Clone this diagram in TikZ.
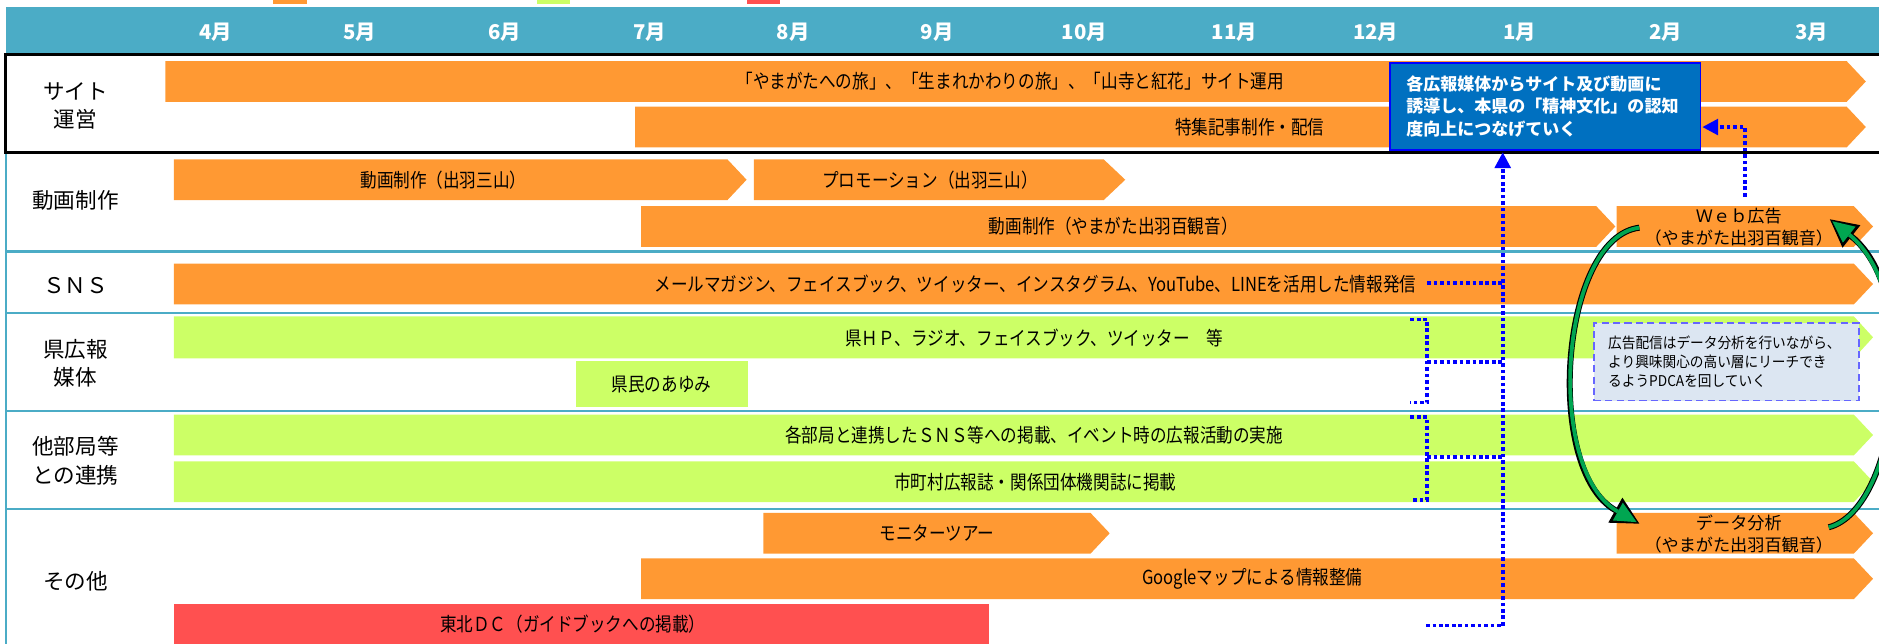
\documentclass[tikz,border=0pt]{standalone}
\usepackage{fontspec}
\usetikzlibrary{arrows.meta}
\newfontfamily\jpc{Noto Sans CJK JP}[FakeStretch=0.86]
\newfontfamily\jpn{Noto Sans CJK JP}
\newfontfamily\jps{Noto Sans CJK JP}[FakeStretch=0.92]
\definecolor{barorange}{RGB}{255,153,51}
\definecolor{bargreen}{RGB}{204,255,102}
\definecolor{barred}{RGB}{255,80,80}
\definecolor{headteal}{RGB}{75,172,198}
\definecolor{goalblue}{RGB}{0,112,192}
\definecolor{dotblue}{RGB}{0,0,255}
\definecolor{notefill}{RGB}{220,230,242}
\definecolor{notedash}{RGB}{102,102,255}
\definecolor{cyclegreen}{RGB}{0,166,81}
\newcommand\chevbar[6]{\fill[#1] (#2,#5) -- (#3,#5) -- (#4,{(#5+#6)/2}) -- (#3,#6) -- (#2,#6) -- cycle;}
\newcommand\rectbar[5]{\fill[#1] (#2,#4) rectangle (#3,#5);}
\tikzset{
  month/.style={font=\jpn\bfseries\fontsize{17}{17}\selectfont, text=white, inner sep=0pt},
  lab/.style={font=\jpn\fontsize{18}{23.5}\selectfont, align=center, inner sep=0pt},
  bartext/.style={font=\jpc\fontsize{16.1}{16}\selectfont, inner sep=0pt},
  twoline/.style={font=\jpn\fontsize{14.3}{18}\selectfont, align=center, inner sep=0pt},
  sepline/.style={draw=headteal, line width=2pt},
  dotline/.style={draw=dotblue, line width=3pt, dash pattern=on 3pt off 2.4pt},
  dottip/.style={-{Triangle[length=13pt,width=14pt,line width=0pt]}},
  cycleout/.style={draw=black, line width=5pt, -{Triangle[length=23pt,width=24pt,line width=0pt]}},
  cyclein/.style={draw=cyclegreen, line width=3.2pt, shorten >=2.6pt, -{Triangle[length=18pt,width=17pt,line width=0pt]}},
}
\begin{document}
\begin{tikzpicture}[x=1pt,y=-1pt]
\useasboundingbox (0,0) rectangle (1568,537);
\clip (0,0) rectangle (1568,537);
% legend remnants
\fill[barorange] (228,0) rectangle (256,3);
\fill[bargreen] (448,0) rectangle (476,3);
\fill[barred] (623,0) rectangle (651,3);
% header
\fill[headteal] (5,6) rectangle (1568,44);
\foreach \mx/\mn/\mt in {180/m4/4月,300/m5/5月,421/m6/6月,542/m7/7月,662/m8/8月,782/m9/9月,905/m10/10月,1030/m11/11月,1148/m12/12月,1268/m1/1月,1390/m2/2月,1512/m3/3月}
  \node[month] (\mn) at (\mx,27) {\mt};
% row 1
\chevbar{barorange}{138}{1541}{1557}{51}{85}
\chevbar{barorange}{530}{1541}{1557}{89}{123}
\node[bartext] (siteA) at (843,68) {「やまがたへの旅」、「生まれかわりの旅」、「山寺と紅花」サイト運用};
\node[bartext] (siteB) at (1043,106) {特集記事制作・配信};
% row 2
\chevbar{barorange}{145}{607}{623}{133}{167}
\chevbar{barorange}{629}{921}{939}{133}{167}
\chevbar{barorange}{535}{1332}{1348}{172}{206}
\chevbar{barorange}{1349}{1547}{1563}{172}{206}
\node[bartext] (movA) at (370,150) {動画制作（出羽三山）};
\node[bartext] (promo) at (776,150) {プロモーション（出羽三山）};
\node[bartext] (movB) at (929,189) {動画制作（やまがた出羽百観音）};
\node[twoline] (web) at (1451,189.5) {Ｗｅｂ広告\\（やまがた出羽百観音）};
% row 3
\chevbar{barorange}{145}{1547}{1563}{220}{254}
\node[bartext] (sns) at (864,237) {メールマガジン、フェイスブック、ツイッター、インスタグラム、YouTube、LINEを活用した情報発信};
% row 4
\chevbar{bargreen}{145}{1547}{1563}{264}{299}
\rectbar{bargreen}{481}{624}{301}{340}
\node[bartext] (kenhp) at (863,282) {県ＨＰ、ラジオ、フェイスブック、ツイッター　等};
\node[bartext] (ayumi) at (552,321) {県民のあゆみ};
% row 5
\chevbar{bargreen}{145}{1547}{1563}{346}{380}
\chevbar{bargreen}{145}{1547}{1563}{385}{419}
\node[bartext] (bukyoku) at (863,363) {各部局と連携したＳＮＳ等への掲載、イベント時の広報活動の実施};
\node[bartext] (shichoson) at (864,402) {市町村広報誌・関係団体機関誌に掲載};
% row 6
\chevbar{barorange}{637}{910}{926}{428}{462}
\chevbar{barorange}{1349}{1547}{1563}{428}{462}
\chevbar{barorange}{535}{1547}{1563}{466}{500}
\rectbar{barred}{145}{825}{504}{540}
\node[bartext] (monitor) at (782,445) {モニターツアー};
\node[twoline] (data) at (1451,445.5) {データ分析\\（やまがた出羽百観音）};
\node[bartext] (google) at (1045,483) {Googleマップによる情報整備};
\node[bartext] (tohoku) at (478,521) {東北ＤＣ（ガイドブックへの掲載）};
% grid lines
\foreach \yy in {210,261,343,425} \draw[sepline] (5,\yy) -- (1568,\yy);
\draw[draw=headteal, line width=1.6pt] (5,127) -- (5,537);
\draw[black, line width=2.6pt] (4.5,45.5) rectangle (1585,127.5);
% left labels
\node[lab] (lsite) at (63,88.5) {サイト\\運営};
\node[lab] (lmovie) at (63,167) {動画制作};
\node[lab] (lsns) at (63,238) {ＳＮＳ};
\node[lab] (lken) at (63,303.5) {県広報\\媒体};
\node[lab] (ltabu) at (63,384.5) {他部局等\\との連携};
\node[lab] (lother) at (63,485) {その他};
% goal box
\node[draw=dotblue, line width=1.5pt, fill=goalblue, text=white, font=\jpn\bfseries\fontsize{14.2}{19}\selectfont,
      text width=232pt, inner xsep=13.5pt, inner ysep=0pt, minimum height=72.5pt, align=left] (goal) at (1289.5,88.75)
  {各広報媒体からサイト及び動画に\\誘導し、本県の「精神文化」の認知\\度向上につなげていく};
% note box
\node[draw=notedash, dash pattern=on 6pt off 3.5pt, line width=1.5pt, fill=notefill, font=\jps\fontsize{12.4}{16}\selectfont,
      text width=197pt, inner xsep=12pt, inner ysep=0pt, minimum height=64.5pt, align=left] (note) at (1440.5,302)
  {広告配信はデータ分析を行いながら、\\より興味関心の高い層にリーチでき\\るようPDCAを回していく};
% dotted connectors
\coordinate (hubbot) at (1254,522);
\coordinate (botstart) at (1190,522);
\coordinate (snsend) at (1191,236);
\coordinate (brA1) at (1177,266.5);
\coordinate (brA2) at (1177,336);
\coordinate (brAmid) at (1191,302);
\coordinate (brB1) at (1177,348);
\coordinate (brB2) at (1177,417);
\coordinate (brBmid) at (1191,381.5);
\coordinate (webtop) at (1456,164);
\draw[dotline] (botstart) -- (hubbot);
\draw[dotline] (snsend) -- (snsend -| hubbot);
\draw[dotline] (brA1) -| (brAmid) |- (brA2);
\draw[dotline] (brAmid) -- (brAmid -| hubbot);
\draw[dotline] (brB1) -| (brBmid) |- (brB2);
\draw[dotline] (brBmid) -- (brBmid -| hubbot);
\draw[dotline, dottip] (hubbot) -- ([yshift=-1.5pt]hubbot |- goal.south);
\draw[dotline, dottip] (webtop) |- ([yshift=-17.25pt, xshift=1pt]goal.east);
% PDCA cycle arrows
\coordinate (webtail) at (1368,190);
\coordinate (datahead) at (1368,437);
\coordinate (datatail) at (1526,440);
\coordinate (webhead) at (1527,183);
\draw[cycleout] (webtail) .. controls (1302,198) and (1288,392) .. (datahead);
\draw[cyclein] (webtail) .. controls (1302,198) and (1288,392) .. (datahead);
\draw[cycleout] (datatail) .. controls (1585,425) and (1605,245) .. (webhead);
\draw[cyclein] (datatail) .. controls (1585,425) and (1605,245) .. (webhead);
\end{tikzpicture}
\end{document}
